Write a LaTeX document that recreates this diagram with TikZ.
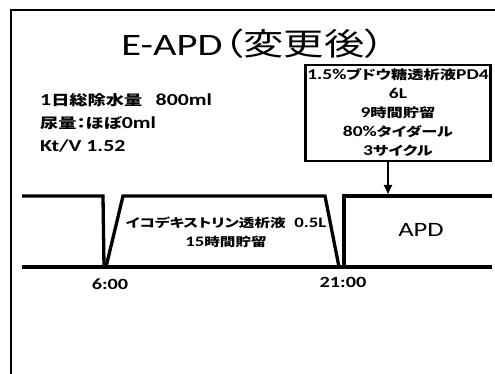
\documentclass[tikz,border=0pt]{standalone}
\usepackage{fontspec}
\setmainfont{Carlito}[FakeStretch=1.3,Scale=1.2]
\newfontfamily\jp{Noto Sans CJK JP}[FakeStretch=1.3,RawFeature=+palt]
\usetikzlibrary{arrows.meta}
\begin{document}
\begin{tikzpicture}[x=1pt,y=-1pt,
  frameline/.style={line width=2pt},
  wave/.style={line width=3.3pt, line join=miter},
  boxnode/.style={draw, line width=2.4pt, minimum width=185pt, minimum height=96pt, align=center, inner sep=0pt,
    font=\bfseries\fontsize{12.5}{19}\selectfont},
  lbl/.style={font=\bfseries\fontsize{14}{23}\selectfont},
  timelbl/.style={font=\bfseries\fontsize{13}{15}\selectfont},
  inner/.style={font=\bfseries\fontsize{12}{19}\selectfont, align=center}]
\useasboundingbox (0,0) rectangle (495,374);
\fill[white] (0,0) rectangle (495,374);
% frame
\draw[frameline] (11,374) -- (11,10) -- (495,10);
% title
\node (title) at (253,44) {\fontsize{26}{36}\selectfont E-APD\kern1pt{\jp\fontsize{31}{36}\selectfont （変更後）}};
% left info
\node[lbl, anchor=west, align=left] (info) at (36,123)
  {1{\jp 日総除水量}\hspace{0.8em}800ml\\{\jp 尿量：ほぼ}0ml\\Kt/V 1.52};
% box
\node[boxnode] (box) at (398,113)
  {1.5\%{\jp ブドウ糖透析液}PD4\\6L\\9{\jp 時間貯留}\\80\%{\jp タイダール}\\3{\jp サイクル}};
% waveform
\coordinate (tip) at (388,194);
\draw[wave] (22,196) -- (103,196) -- (104,267);
\draw[wave] (106,267) -- (123,196) -- (325,196) -- (339,267);
\draw[wave] (344,267) -- (344,196) -- (492,196);
\draw[wave] (22,267) -- (492,267);
\draw[line width=2pt, -{Triangle[length=9pt,width=8pt]}] (box.south -| tip) -- (tip);
% labels
\node[inner] (ico) at (226,232) {{\jp イコデキストリン透析液}\hspace{0.6em}0.5L\\15{\jp 時間貯留}};
\node[font=\fontsize{17}{24}\selectfont] (apd) at (421,230) {APD};
\node[timelbl] (t6) at (110,284) {6:00};
\node[timelbl] (t21) at (343,282) {21:00};
\end{tikzpicture}
\end{document}
